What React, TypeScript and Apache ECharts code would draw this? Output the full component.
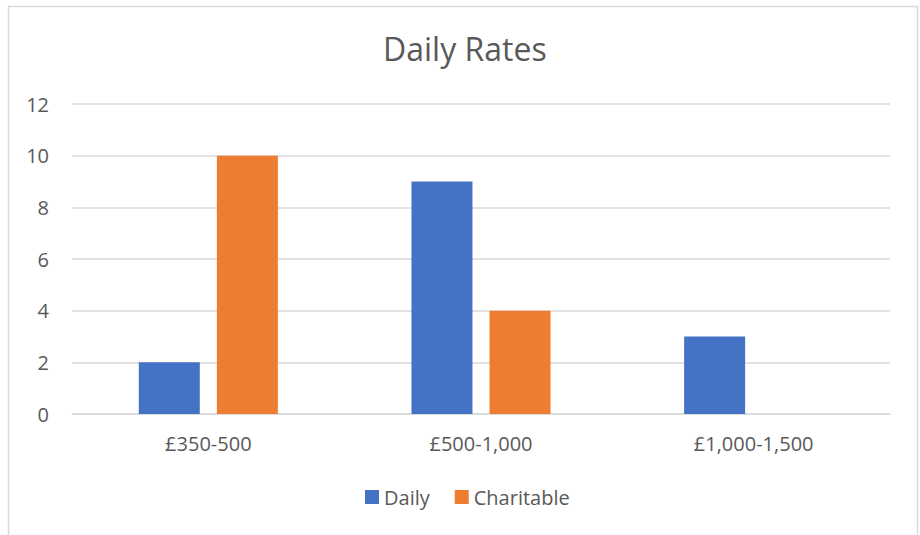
import React, { useEffect, useRef } from "react";
import * as echarts from "echarts";

const categories = ["£350-500", "£500-1,000", "£1,000-1,500"];
const dailyValues = [2, 9, 3];
const charitableValues = [10, 4, 0];
const seriesNames = ["Daily", "Charitable"];
const titleText = "Daily Rates";

const FONT = "'Open Sans', 'Noto Sans', sans-serif";
const TXT = "#595959";

export default function App() {
  const ref = useRef<HTMLDivElement>(null);
  useEffect(() => {
    if (!ref.current) return;
    const chart = echarts.init(ref.current, null, { renderer: "svg" });
    chart.setOption({
      animation: false,
      backgroundColor: "#ffffff",
      textStyle: { fontFamily: FONT },
      title: {
        text: titleText,
        left: 378,
        top: 27,
        textStyle: { fontFamily: FONT, fontSize: 32, fontWeight: "normal", color: TXT },
      },
      graphic: [
        {
          type: "rect",
          shape: { x: 8.5, y: 6.5, width: 909, height: 560 },
          style: { fill: "none", stroke: "#d9d9d9", lineWidth: 1.5 },
          silent: true,
        },
      ],
      legend: {
        top: 482,
        left: 360,
        itemWidth: 14,
        itemHeight: 14,
        itemGap: 25,
        icon: "rect",
        textStyle: { fontFamily: FONT, fontSize: 20, color: TXT },
        data: seriesNames,
      },
      grid: { left: 72, right: 30, top: 104, bottom: 121, containLabel: false },
      xAxis: {
        type: "category",
        data: categories,
        axisLine: { lineStyle: { color: "#d9d9d9", width: 1.5 } },
        axisTick: { show: false },
        axisLabel: { fontFamily: FONT, fontSize: 20, color: TXT, margin: 19 },
      },
      yAxis: {
        type: "value",
        min: 0,
        max: 12,
        interval: 2,
        axisLine: { show: false },
        axisTick: { show: false },
        splitLine: { lineStyle: { color: "#d9d9d9", width: 1.5 } },
        axisLabel: { fontFamily: FONT, fontSize: 20, color: TXT, margin: 23 },
      },
      series: [
        {
          name: seriesNames[0],
          type: "bar",
          data: dailyValues,
          barWidth: 61,
          barGap: "28%",
          itemStyle: { color: "#4472c4" },
        },
        {
          name: seriesNames[1],
          type: "bar",
          data: charitableValues,
          barWidth: 61,
          barGap: "28%",
          itemStyle: { color: "#ed7d31" },
        },
      ],
    });
    return () => chart.dispose();
  }, []);
  return (
    <div
      ref={ref}
      style={{ position: "absolute", left: 0, top: 0, width: 920, height: 535 }}
    />
  );
}
